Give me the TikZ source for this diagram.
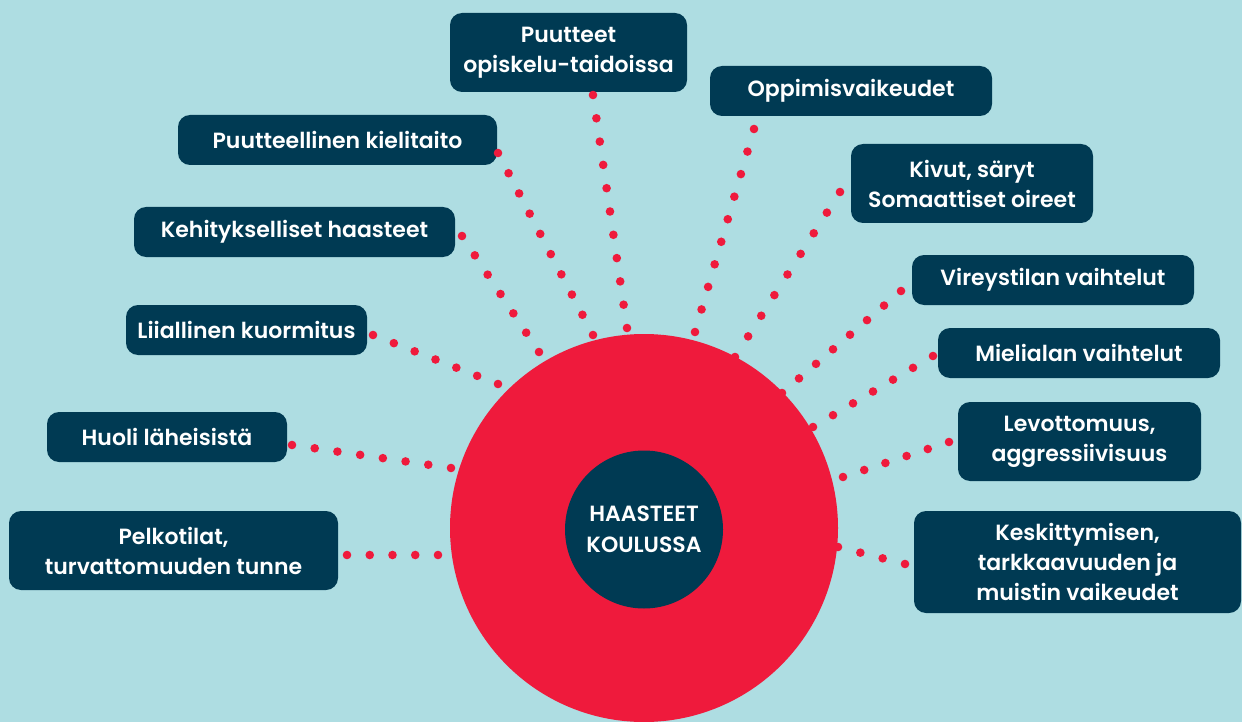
\documentclass[tikz,border=0pt]{standalone}
\usepackage{fontspec}
\setmainfont{Poppins}[BoldFont={Poppins SemiBold}]
\usetikzlibrary{calc}

\definecolor{bgblue}{RGB}{174,221,226}
\definecolor{hubred}{RGB}{239,26,60}
\definecolor{navy}{RGB}{0,58,83}

\tikzset{
  box/.style={fill=navy, rounded corners=12, text=white, align=center,
    inner sep=0, font=\bfseries\fontsize{22}{30}\selectfont},
  hubtext/.style={text=white, align=center, font=\bfseries\fontsize{22}{31}\selectfont},
}

% a row of n+1 evenly spaced red dots from #1 to #2
\newcommand\dotrow[3]{%
  \foreach \k in {0,...,#3}{\fill[hubred] ($(#1)!{\k/#3}!(#2)$) circle (4.3);}}

\begin{document}
\begin{tikzpicture}[x=1pt,y=-1pt]
  \useasboundingbox (0,0) rectangle (1242,722);
  \fill[bgblue] (0,0) rectangle (1242,722);

  % central disc
  \fill[hubred] (644,528) circle (194);
  \node[circle, fill=navy, minimum size=158, inner sep=0] (hub) at (644,529.5) {};

  % topic boxes
  \node[box, minimum width=237, minimum height=79] (opisk) at (568.5,52.5) {Puutteet\\opiskelu-taidoissa};
  \node[box, minimum width=282, minimum height=50] (oppim) at (851,91) {Oppimisvaikeudet};
  \node[box, minimum width=319, minimum height=50] (kieli) at (337.5,140) {Puutteellinen kielitaito};
  \node[box, minimum width=242, minimum height=79] (kivut) at (972,183.5) {Kivut, säryt\\Somaattiset oireet};
  \node[box, minimum width=321, minimum height=50] (kehit) at (294.5,232) {Kehitykselliset haasteet};
  \node[box, minimum width=282, minimum height=50] (virey) at (1053,280) {Vireystilan vaihtelut};
  \node[box, minimum width=241, minimum height=50] (liial) at (246.5,330) {Liiallinen kuormitus};
  \node[box, minimum width=282, minimum height=50] (mieli) at (1079,353) {Mielialan vaihtelut};
  \node[box, minimum width=240, minimum height=50] (huoli) at (167,437) {Huoli läheisistä};
  \node[box, minimum width=243, minimum height=79] (levot) at (1079.5,441.5) {Levottomuus,\\aggressiivisuus};
  \node[box, minimum width=329, minimum height=79] (pelko) at (173.5,550.5) {Pelkotilat,\\turvattomuuden tunne};
  \node[box, minimum width=327, minimum height=102] (keski) at (1077.5,562) {Keskittymisen,\\tarkkaavuuden ja\\muistin vaikeudet};

  % connector end points (box side / disc side)
  \coordinate (opisk-a) at (593,95);   \coordinate (opisk-b) at (627,328);
  \coordinate (oppim-a) at (754,129);  \coordinate (oppim-b) at (695,332);
  \coordinate (kieli-a) at (498,153);  \coordinate (kieli-b) at (593,335);
  \coordinate (kivut-a) at (840,192);  \coordinate (kivut-b) at (735,357);
  \coordinate (kehit-a) at (462,236);  \coordinate (kehit-b) at (539,352);
  \coordinate (virey-a) at (901,291);  \coordinate (virey-b) at (782,393);
  \coordinate (liial-a) at (373,335);  \coordinate (liial-b) at (498,384);
  \coordinate (mieli-a) at (933,356);  \coordinate (mieli-b) at (813,427);
  \coordinate (huoli-a) at (292,445);  \coordinate (huoli-b) at (451,468);
  \coordinate (levot-a) at (949,442);  \coordinate (levot-b) at (843,477);
  \coordinate (pelko-a) at (347,555);  \coordinate (pelko-b) at (438,555);
  \coordinate (keski-a) at (905,564);  \coordinate (keski-b) at (838,547);

  % dotted connectors
  \dotrow{opisk-a}{opisk-b}{10}
  \dotrow{oppim-a}{oppim-b}{9}
  \dotrow{kieli-a}{kieli-b}{9}
  \dotrow{kivut-a}{kivut-b}{8}
  \dotrow{kehit-a}{kehit-b}{6}
  \dotrow{virey-a}{virey-b}{7}
  \dotrow{liial-a}{liial-b}{6}
  \dotrow{mieli-a}{mieli-b}{6}
  \dotrow{huoli-a}{huoli-b}{7}
  \dotrow{levot-a}{levot-b}{5}
  \dotrow{pelko-a}{pelko-b}{4}
  \dotrow{keski-a}{keski-b}{3}

  \node[hubtext] at (hub) {HAASTEET\\KOULUSSA};
\end{tikzpicture}
\end{document}
